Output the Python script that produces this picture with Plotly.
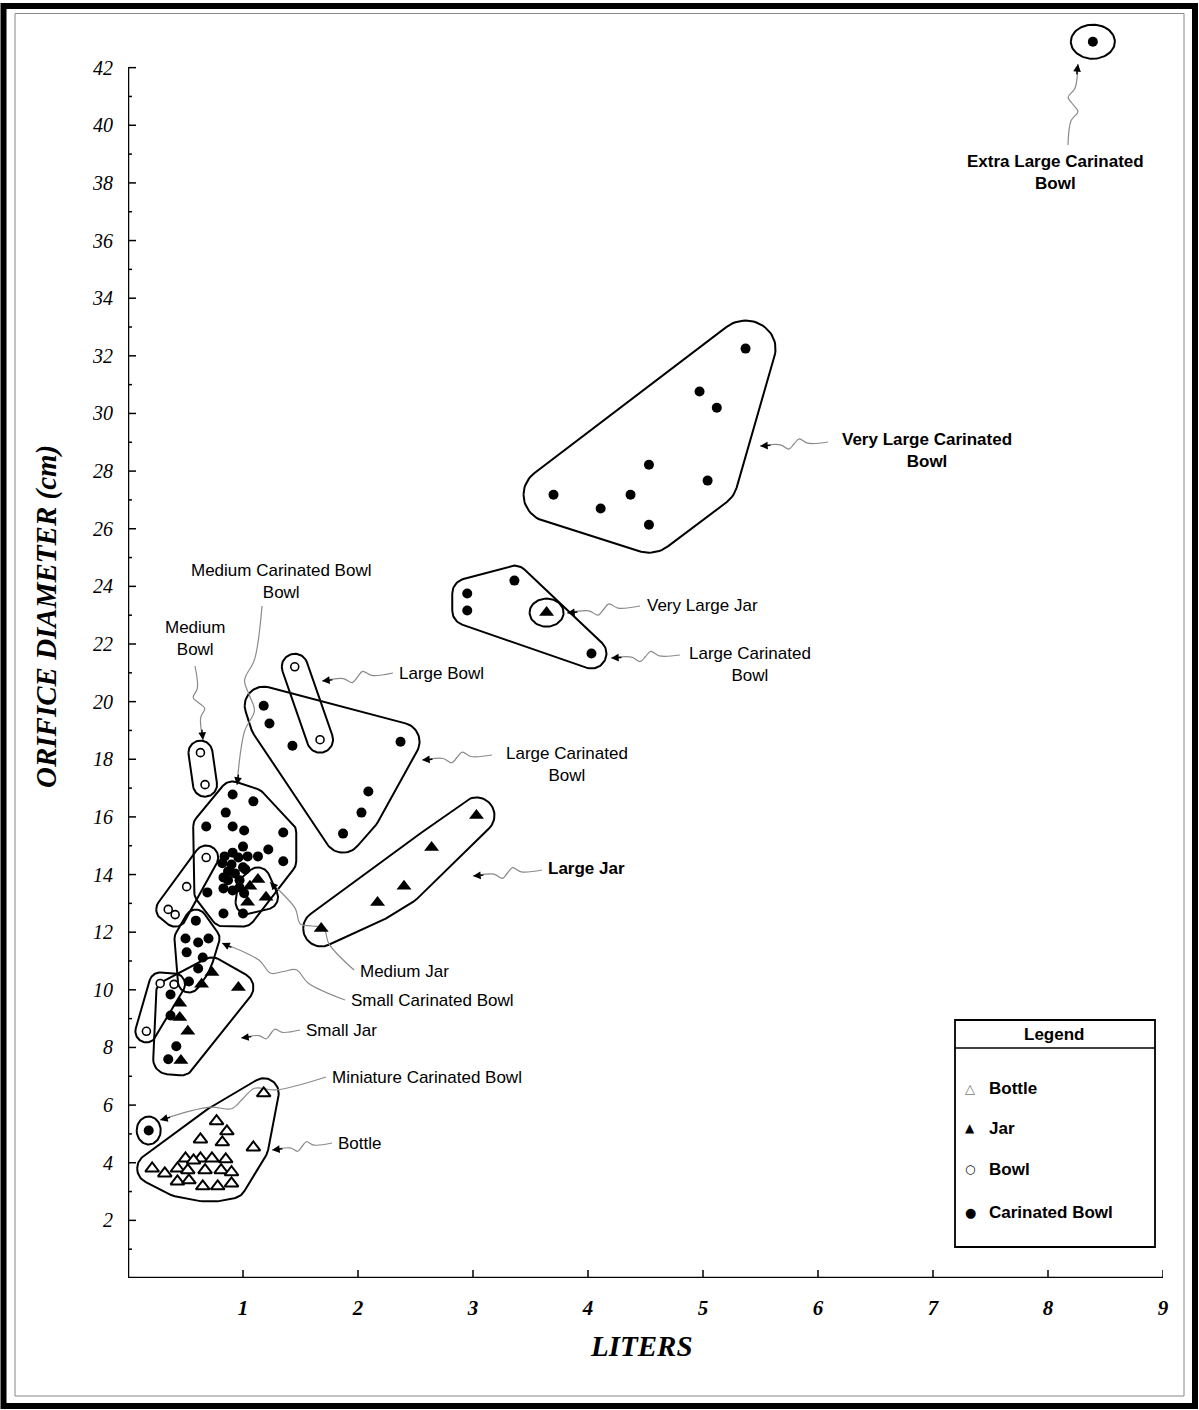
import math
import plotly.graph_objects as go

# ---------------- DATA (liters, orifice diameter cm) ----------------
BOTTLE_L = [1.18, 0.77, 0.86, 0.63, 0.82, 1.09, 0.50, 0.63, 0.73, 0.85, 0.57, 0.43,
            0.52, 0.67, 0.81, 0.90, 0.21, 0.32, 0.43, 0.53, 0.65, 0.78, 0.90]
BOTTLE_D = [6.41, 5.44, 5.09, 4.81, 4.71, 4.53, 4.15, 4.15, 4.15, 4.12, 4.08, 3.80,
            3.74, 3.74, 3.74, 3.67, 3.80, 3.63, 3.35, 3.39, 3.18, 3.18, 3.28]

JAR_L = [3.64,
         3.03, 2.64, 2.40, 2.17, 1.68,
         1.13, 1.06, 1.20, 1.04,
         0.73, 0.64, 0.96, 0.45, 0.45, 0.52, 0.46]
JAR_D = [23.09,
         16.05, 14.94, 13.59, 13.03, 12.13,
         13.83, 13.59, 13.21, 13.04,
         10.60, 10.19, 10.08, 9.53, 9.04, 8.56, 7.55]
JAR_G = ["Very Large Jar"] + ["Large Jar"] * 5 + ["Medium Jar"] * 4 + ["Small Jar"] * 7

BOWL_L = [1.45, 1.67, 0.63, 0.67, 0.68, 0.51, 0.35, 0.41, 0.28, 0.40, 0.16]
BOWL_D = [21.21, 18.68, 18.23, 17.12, 14.59, 13.58, 12.79, 12.61, 10.22, 10.19, 8.56]
BOWL_G = ["Large Bowl"] * 2 + ["Medium Bowl"] * 2 + ["Bowl B"] * 4 + ["Small Bowl"] * 3

CBOWL_L = [8.39,
           5.37, 4.97, 5.12, 4.53, 5.04, 3.70, 4.37, 4.11, 4.53,
           3.36, 2.95, 2.95, 4.03,
           1.18, 1.23, 1.43, 2.37, 2.09, 2.03, 1.87,
           0.91, 1.09, 0.85, 0.68, 0.91, 1.01, 1.35, 1.22, 1.00, 0.91, 0.84, 0.96, 1.04,
           1.13, 1.35, 0.82, 0.90, 1.00, 0.87, 0.93, 1.02, 0.87, 0.97, 0.83, 0.91, 0.97,
           0.69, 1.01, 0.83, 1.00, 0.83,
           0.59, 0.50, 0.61, 0.70, 0.51, 0.65, 0.61, 0.53,
           0.37, 0.37, 0.42, 0.35,
           0.18]
CBOWL_D = [42.9,
           32.25, 30.76, 30.20, 28.22, 27.67, 27.18, 27.18, 26.70, 26.14,
           24.20, 23.75, 23.16, 21.67,
           19.86, 19.24, 18.47, 18.61, 16.88, 16.15, 15.42,
           16.78, 16.54, 16.15, 15.67, 15.67, 15.53, 15.46, 14.87, 14.97, 14.76, 14.63, 14.59, 14.63,
           14.63, 14.46, 14.39, 14.35, 14.25, 14.11, 14.04, 14.18, 13.80, 13.80, 13.52, 13.45, 13.55,
           13.38, 13.35, 12.65, 12.65, 13.90,
           12.40, 11.78, 11.64, 11.78, 11.30, 11.12, 10.74, 10.29,
           9.84, 9.11, 8.04, 7.59,
           5.12]
CBOWL_G = (["Extra Large Carinated Bowl"] + ["Very Large Carinated Bowl"] * 9
           + ["Large Carinated Bowl A"] * 4 + ["Large Carinated Bowl B"] * 7
           + ["Medium Carinated Bowl"] * 31 + ["Small Carinated Bowl"] * 8
           + ["Small Jar"] * 4 + ["Miniature Carinated Bowl"])

X_TICKS = [1, 2, 3, 4, 5, 6, 7, 8, 9]
Y_TICKS = list(range(2, 43, 2))
Y_MINOR = list(range(1, 42, 2))

# ---------------- LAYOUT GEOMETRY ----------------
W, H = 1199, 1410
ML, MR, MT, MB = 128, 36, 10, 132
XMAX, YMAX = 9.0, 44.0
PW, PH = W - ML - MR, H - MT - MB
SX, SY = PW / XMAX, PH / YMAX
Y0 = H - MB


def dx(px):
    return (px - ML) / SX


def dy(py):
    return (Y0 - py) / SY


def to_px(x, y):
    return ML + x * SX, Y0 - y * SY


def pxp(px):
    return (px - ML) / PW


def pyp(py):
    return (Y0 - py) / PH


# padding (px) of hand-drawn style outlines around each group
GROUP_PAD = {
    "Extra Large Carinated Bowl": (22, 17),
    "Very Large Carinated Bowl": (30, 28),
    "Large Carinated Bowl A": (15, 15),
    "Very Large Jar": (17, 14),
    "Large Bowl": (13, 13),
    "Large Carinated Bowl B": (19, 19),
    "Large Jar": (18, 18),
    "Medium Bowl": (12, 12),
    "Medium Carinated Bowl": (13, 13),
    "Medium Jar": (12, 12),
    "Bowl B": (12, 12),
    "Small Carinated Bowl": (11, 11),
    "Small Bowl": (11, 11),
    "Small Jar": (15, 15),
    "Miniature Carinated Bowl": (12, 14),
    "Bottle": (15, 15),
}


def convex_hull(points):
    pts = sorted(set(points))
    if len(pts) <= 2:
        return pts

    def cross(o, a, b):
        return (a[0] - o[0]) * (b[1] - o[1]) - (a[1] - o[1]) * (b[0] - o[0])
    lower, upper = [], []
    for p in pts:
        while len(lower) >= 2 and cross(lower[-2], lower[-1], p) <= 0:
            lower.pop()
        lower.append(p)
    for p in reversed(pts):
        while len(upper) >= 2 and cross(upper[-2], upper[-1], p) <= 0:
            upper.pop()
        upper.append(p)
    return lower[:-1] + upper[:-1]


groups = {}
for L, D, G in [(BOTTLE_L, BOTTLE_D, ["Bottle"] * len(BOTTLE_L)),
                (JAR_L, JAR_D, JAR_G), (BOWL_L, BOWL_D, BOWL_G),
                (CBOWL_L, CBOWL_D, CBOWL_G)]:
    for x, y, g in zip(L, D, G):
        groups.setdefault(g, []).append(to_px(x, y))

fig = go.Figure()

# outlines
NA = 72
for g, pts in groups.items():
    rx, ry = GROUP_PAD[g]
    cloud = []
    for (px, py) in pts:
        for k in range(NA):
            t = 2 * math.pi * k / NA
            cloud.append((round(px + rx * math.cos(t), 2), round(py + ry * math.sin(t), 2)))
    hull = convex_hull(cloud)
    hull.append(hull[0])
    fig.add_trace(go.Scatter(x=[dx(p[0]) for p in hull], y=[dy(p[1]) for p in hull],
                             mode="lines", line=dict(color="black", width=2),
                             hoverinfo="skip", showlegend=False))

# ---------------- leader lines and labels ----------------
LABELS = [
    # text, anchor, x_px, y_px, bold, start_px, tip_px
    ("Extra Large Carinated<br>Bowl", "center", 1055, 172, True, (1068, 145), (1078, 64)),
    ("Very Large Carinated<br>Bowl", "center", 927, 450, True, (828, 442), (760, 446)),
    ("Very Large Jar", "left", 645, 605, False, (640, 606), (567, 613)),
    ("Large Carinated<br>Bowl", "center", 750, 664, False, (680, 655), (611, 658)),
    ("Large Bowl", "left", 397, 673, False, (393, 673), (322, 681)),
    ("Large Carinated<br>Bowl", "center", 567, 764, False, (492, 755), (422, 760)),
    ("Large Jar", "left", 546, 868, True, (542, 870), (473, 876)),
    ("Medium Carinated Bowl<br>Bowl", "center", 281, 581, False, (262, 606), (237, 785)),
    ("Medium<br>Bowl", "center", 195, 638, False, (195, 666), (203, 740)),
    ("Medium Jar", "left", 358, 971, False, (354, 970), (270, 882)),
    ("Small Carinated Bowl", "left", 349, 1000, False, (345, 1000), (222, 943)),
    ("Small Jar", "left", 304, 1030, False, (300, 1030), (241, 1038)),
    ("Miniature Carinated Bowl", "left", 330, 1077, False, (326, 1077), (160, 1120)),
    ("Bottle", "left", 336, 1143, False, (332, 1143), (272, 1150)),
]

annotations = []
for text, anc, tx, ty, bold, S, T in LABELS:
    annotations.append(dict(x=dx(tx), y=dy(ty), xref="x", yref="y", text=text,
                            showarrow=False, xanchor=anc, yanchor="middle",
                            font=dict(family="Liberation Sans, Arial", size=17, color="black",
                                      weight="bold" if bold else "normal")))
    sx, sy = S
    txp, typ = T
    vx, vy = txp - sx, typ - sy
    Ln = math.hypot(vx, vy)
    ux, uy = vx / Ln, vy / Ln
    nx, ny = -uy, ux
    amp = min(7, Ln * 0.07)
    ts = [0, 0.3, 0.42, 0.5, 0.58, 0.7, 1]
    offs = [0, 0, amp, 0, -amp, 0, 0]
    qx = [sx + vx * t + nx * o for t, o in zip(ts, offs)]
    qy = [sy + vy * t + ny * o for t, o in zip(ts, offs)]
    fig.add_trace(go.Scatter(x=[dx(v) for v in qx], y=[dy(v) for v in qy], mode="lines",
                             line=dict(color="#8a8a8a", width=1.2, shape="spline"),
                             hoverinfo="skip", showlegend=False))
    annotations.append(dict(x=dx(txp), y=dy(typ), xref="x", yref="y",
                            ax=dx(txp - ux * 12), ay=dy(typ - uy * 12), axref="x", ayref="y",
                            text="", showarrow=True, arrowhead=2, arrowsize=1.1,
                            arrowwidth=1.4, arrowcolor="black", standoff=0))

# ---------------- data markers ----------------
fig.add_trace(go.Scatter(x=BOTTLE_L, y=BOTTLE_D, mode="markers", name="Bottle",
                         marker=dict(symbol="triangle-up", size=12, color="white",
                                     line=dict(color="black", width=2)), showlegend=False))
fig.add_trace(go.Scatter(x=JAR_L, y=JAR_D, mode="markers", name="Jar",
                         marker=dict(symbol="triangle-up", size=13, color="black",
                                     line=dict(color="black", width=0)), showlegend=False))
fig.add_trace(go.Scatter(x=BOWL_L, y=BOWL_D, mode="markers", name="Bowl",
                         marker=dict(symbol="circle", size=8, color="white",
                                     line=dict(color="black", width=1.6)), showlegend=False))
fig.add_trace(go.Scatter(x=CBOWL_L, y=CBOWL_D, mode="markers", name="Carinated Bowl",
                         marker=dict(symbol="circle", size=10, color="black",
                                     line=dict(color="black", width=0)), showlegend=False))

# ---------------- axes drawn as shapes ----------------
shapes = []
shapes.append(dict(type="line", xref="x", yref="y", x0=0, x1=0, y0=0, y1=42,
                   line=dict(color="black", width=2.5)))
shapes.append(dict(type="line", xref="x", yref="y", x0=0, x1=9.02, y0=0, y1=0,
                   line=dict(color="black", width=2.5)))
for v in Y_TICKS:
    shapes.append(dict(type="line", xref="x", xsizemode="pixel", xanchor=0, x0=-7, x1=8,
                       yref="y", y0=v, y1=v, line=dict(color="black", width=1.5)))
for v in Y_MINOR:
    shapes.append(dict(type="line", xref="x", xsizemode="pixel", xanchor=0, x0=-4, x1=4,
                       yref="y", y0=v, y1=v, line=dict(color="black", width=1.5)))
for v in X_TICKS:
    shapes.append(dict(type="line", yref="y", ysizemode="pixel", yanchor=0, y0=-8, y1=8,
                       xref="x", x0=v, x1=v, line=dict(color="black", width=1.5)))

# legend box
shapes.append(dict(type="rect", xref="paper", yref="paper", x0=pxp(955), x1=pxp(1155),
                   y0=pyp(1247), y1=pyp(1020), line=dict(color="black", width=1.8)))
shapes.append(dict(type="line", xref="paper", yref="paper", x0=pxp(955), x1=pxp(1155),
                   y0=pyp(1048), y1=pyp(1048), line=dict(color="black", width=1.5)))
LEG_FONT = dict(family="Liberation Sans, Arial", size=17, color="black", weight="bold")
annotations.append(dict(x=pxp(1054), y=pyp(1034), xref="paper", yref="paper", text="Legend",
                        showarrow=False, font=LEG_FONT, xanchor="center", yanchor="middle"))
LEG_ITEMS = [("△", "#777777", 13, "Bottle", 1088), ("▲", "black", 12, "Jar", 1128),
             ("○", "black", 12, "Bowl", 1169), ("●", "black", 13, "Carinated Bowl", 1212)]
for glyph, col, gs, lab, py in LEG_ITEMS:
    annotations.append(dict(x=pxp(970), y=pyp(py), xref="paper", yref="paper", text=glyph,
                            showarrow=False, xanchor="center", yanchor="middle",
                            font=dict(family="DejaVu Sans", size=gs, color=col)))
    annotations.append(dict(x=pxp(987), y=pyp(py), xref="paper", yref="paper", text=lab,
                            showarrow=False, xanchor="left", yanchor="middle", font=LEG_FONT))

# frame
shapes.append(dict(type="rect", xref="paper", yref="paper", x0=pxp(3.5), x1=pxp(1195),
                   y0=pyp(1406), y1=pyp(6), line=dict(color="black", width=6)))
shapes.append(dict(type="rect", xref="paper", yref="paper", x0=pxp(15), x1=pxp(1184),
                   y0=pyp(1396), y1=pyp(13.5), line=dict(color="#888888", width=1)))

# axis titles
annotations.append(dict(x=pxp(46), y=pyp(617), xref="paper", yref="paper",
                        text="ORIFICE DIAMETER (cm)", textangle=-90, showarrow=False,
                        xanchor="center", yanchor="middle",
                        font=dict(family="Liberation Serif, Times New Roman", size=29,
                                  color="black", weight="bold", style="italic")))
annotations.append(dict(x=pxp(641), y=pyp(1346), xref="paper", yref="paper",
                        text="LITERS", showarrow=False, xanchor="center", yanchor="middle",
                        font=dict(family="Liberation Serif, Times New Roman", size=29,
                                  color="black", weight="bold", style="italic")))

fig.update_layout(
    width=W, height=H, margin=dict(l=ML, r=MR, t=MT, b=MB),
    paper_bgcolor="white", plot_bgcolor="white", showlegend=False,
    xaxis=dict(range=[0, XMAX], tickvals=X_TICKS, ticks="outside", ticklen=11,
               tickcolor="rgba(0,0,0,0)", showgrid=False, zeroline=False, showline=False,
               tickfont=dict(family="Liberation Serif, Times New Roman", size=21,
                             color="black", weight="bold", style="italic")),
    yaxis=dict(range=[0, YMAX], tickvals=Y_TICKS, ticks="outside", ticklen=10,
               tickcolor="rgba(0,0,0,0)", showgrid=False, zeroline=False, showline=False,
               tickfont=dict(family="Liberation Serif, Times New Roman", size=20,
                             color="black", style="italic")),
    shapes=shapes, annotations=annotations,
)

fig.write_html("out.html", config={"displayModeBar": False},
               post_script="document.body.style.margin='0';")
